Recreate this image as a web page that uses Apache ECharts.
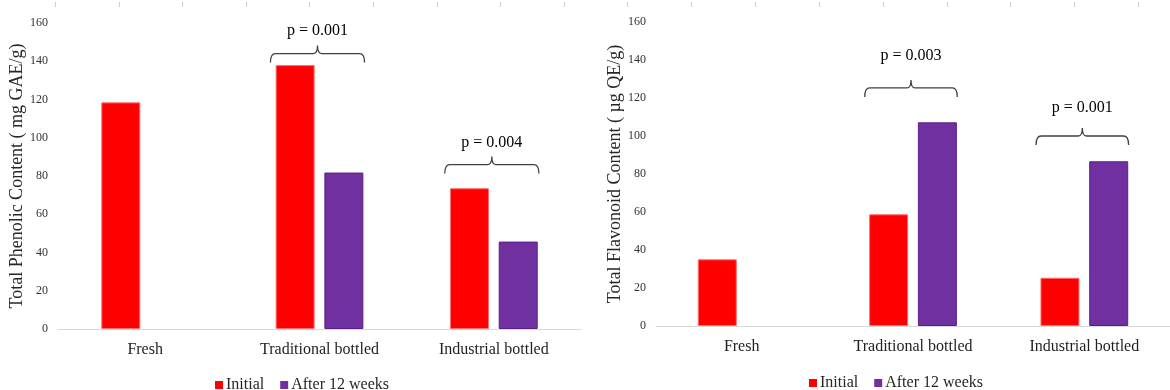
<!DOCTYPE html>
<html>
<head>
<meta charset="utf-8">
<script src="https://cdn.jsdelivr.net/npm/echarts@6/dist/echarts.min.js"></script>
<style>
  html, body { margin: 0; padding: 0; background: #ffffff; }
  #chart { width: 1170px; height: 390px; }
</style>
</head>
<body>
<div id="chart"></div>
<script>
// ---------- data ----------
var categories = ['Fresh', 'Traditional bottled', 'Industrial bottled'];
var seriesNames = ['Initial', 'After 12 weeks'];
var yTicks = { min: 0, max: 160, interval: 20 };

// Left chart: Total Phenolic Content (mg GAE/g)
var phenolicInitial = [118.5, 138, 73.6];
var phenolicAfter = [null, 81.8, 45.7];
var phenolicTitle = 'Total Phenolic Content ( mg GAE/g)';
var phenolicBracketCats = [1, 2];
var phenolicBracketLevels = [144, 86];
var phenolicLabelLevels = [156, 97.5];
var phenolicPLabels = ['p = 0.001', 'p = 0.004'];

// Right chart: Total Flavonoid Content (µg QE/g)
var flavonoidInitial = [35.1, 58.8, 25.4];
var flavonoidAfter = [null, 107.2, 86.7];
var flavonoidTitle = 'Total Flavonoid Content ( µg QE/g)';
var flavonoidBracketCats = [1, 2];
var flavonoidBracketLevels = [125.3, 100];
var flavonoidLabelLevels = [142, 114.7];
var flavonoidPLabels = ['p = 0.003', 'p = 0.001'];

// ---------- styling ----------
var FONT = '"Liberation Serif", "Times New Roman", serif';
var RED = '#ff0000';
var PURPLE = '#7030a0';

function bracketSeries(gridIdx, cats, levels, labelLevels, labels) {
  var data = cats.map(function (c, i) { return [c, levels[i], labelLevels[i], labels[i]]; });
  return {
    type: 'custom',
    xAxisIndex: gridIdx,
    yAxisIndex: gridIdx,
    silent: true,
    z: 5,
    encode: { x: 0, y: 1 },
    data: data,
    renderItem: function (params, api) {
      var c = api.coord([api.value(0), api.value(1)]);
      var t = api.coord([api.value(0), api.value(2)]);
      var cw = api.size([1, 0])[0];
      var half = cw * 0.27;
      var xc = c[0] - 2, y = c[1];
      var x0 = xc - half, x1 = xc + half;
      var path = 'M' + x0 + ',' + (y + 9) +
        ' Q' + x0 + ',' + y + ' ' + (x0 + 5) + ',' + y +
        ' L' + (xc - 4) + ',' + y +
        ' Q' + xc + ',' + y + ' ' + xc + ',' + (y - 8) +
        ' Q' + xc + ',' + y + ' ' + (xc + 4) + ',' + y +
        ' L' + (x1 - 5) + ',' + y +
        ' Q' + x1 + ',' + y + ' ' + x1 + ',' + (y + 9);
      return {
        type: 'group',
        children: [
          {
            type: 'path',
            shape: { pathData: path },
            style: { fill: null, stroke: '#404040', lineWidth: 1.3 }
          },
          {
            type: 'text',
            x: t[0] - 2,
            y: t[1],
            style: {
              text: api.value(3),
              font: '16px ' + FONT,
              fill: '#000000',
              align: 'center',
              verticalAlign: 'middle'
            }
          }
        ]
      };
    }
  };
}

function barSeries(name, data, idx, color, border) {
  return {
    name: name,
    type: 'bar',
    xAxisIndex: idx,
    yAxisIndex: idx,
    data: data,
    barWidth: 39,
    barGap: '25%',
    itemStyle: { color: color, borderColor: border, borderWidth: 1 }
  };
}

function xAxisDef(gridIdx) {
  return {
    type: 'category',
    gridIndex: gridIdx,
    data: categories,
    axisLine: { lineStyle: { color: '#d9d9d9', width: 1.2 } },
    axisTick: { show: false },
    axisLabel: { color: '#1f1f1f', fontFamily: FONT, fontSize: 16, margin: 13 },
    splitLine: { show: false }
  };
}

function yAxisDef(gridIdx, title) {
  return {
    type: 'value',
    gridIndex: gridIdx,
    min: yTicks.min,
    max: yTicks.max,
    interval: yTicks.interval,
    axisLine: { show: false },
    axisTick: { show: false },
    splitLine: { show: false },
    axisLabel: { color: '#333333', fontFamily: FONT, fontSize: 12, margin: 10 },
    name: title,
    nameLocation: 'middle',
    nameRotate: 90,
    nameGap: 27,
    nameTextStyle: { color: '#262626', fontFamily: FONT, fontSize: 18 }
  };
}

function legendDef(left, top) {
  return {
    data: seriesNames,
    left: left, top: top,
    itemWidth: 8, itemHeight: 8, itemGap: 16,
    icon: 'rect',
    itemStyle: { borderWidth: 0 },
    textStyle: { color: '#262626', fontFamily: FONT, fontSize: 16, padding: [0, 0, 0, -2] }
  };
}

// faint tick marks along the top edge (artifact of the source image)
var topMarks = [];
[[55, 63.6], [627, 63.9]].forEach(function (p) {
  for (var k = 0; k < 9; k++) {
    var x = Math.round(p[0] + p[1] * k) + 0.5;
    topMarks.push({
      type: 'line',
      shape: { x1: x, y1: 2, x2: x, y2: 7 },
      style: { stroke: '#cfcfcf', lineWidth: 1 },
      silent: true
    });
  }
});

var chart = echarts.init(document.getElementById('chart'), null, { renderer: 'canvas' });
chart.setOption({
  animation: false,
  backgroundColor: '#ffffff',
  graphic: topMarks,
  grid: [
    { left: 58, top: 23, width: 523, height: 306 },
    { left: 656, top: 22, width: 522, height: 304 }
  ],
  legend: [legendDef(210, 372), legendDef(804, 370)],
  xAxis: [xAxisDef(0), xAxisDef(1)],
  yAxis: [yAxisDef(0, phenolicTitle), yAxisDef(1, flavonoidTitle)],
  series: [
    barSeries(seriesNames[0], phenolicInitial, 0, RED, '#ff6f6f'),
    barSeries(seriesNames[1], phenolicAfter, 0, PURPLE, '#5a1f8a'),
    barSeries(seriesNames[0], flavonoidInitial, 1, RED, '#ff6f6f'),
    barSeries(seriesNames[1], flavonoidAfter, 1, PURPLE, '#5a1f8a'),
    bracketSeries(0, phenolicBracketCats, phenolicBracketLevels, phenolicLabelLevels, phenolicPLabels),
    bracketSeries(1, flavonoidBracketCats, flavonoidBracketLevels, flavonoidLabelLevels, flavonoidPLabels)
  ]
});
</script>
</body>
</html>
